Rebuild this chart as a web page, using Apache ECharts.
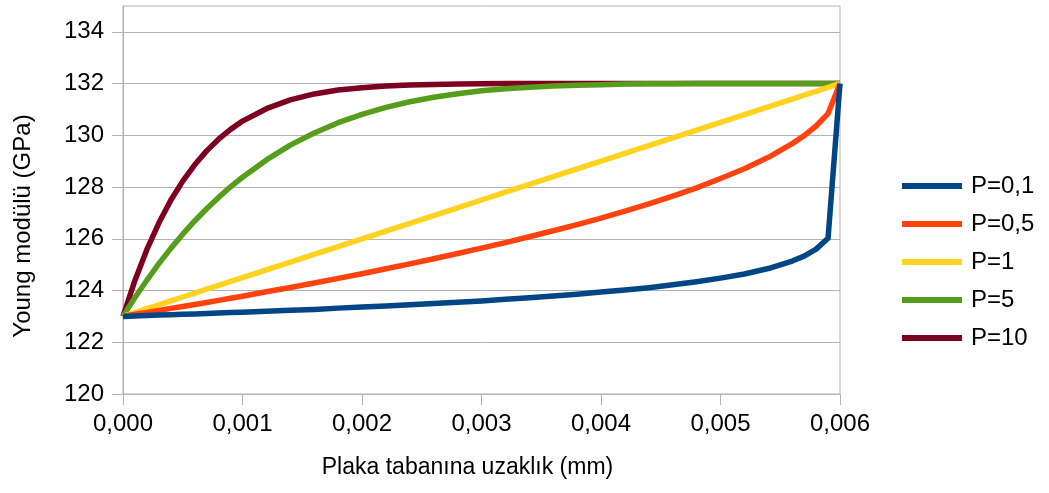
<!DOCTYPE html>
<html>
<head>
<meta charset="utf-8">
<script src="https://cdn.jsdelivr.net/npm/echarts@6/dist/echarts.min.js"></script>
<style>
html,body{margin:0;padding:0;background:#fff;}
#chart{width:1049px;height:493px;}
</style>
</head>
<body>
<div id="chart"></div>
<script>
// Distance from plate base (mm)
var distances = [0, 0.0001, 0.0002, 0.0003, 0.0004, 0.0005, 0.0006, 0.0007, 0.0008, 0.0009, 0.0010,
  0.0012, 0.0014, 0.0016, 0.0018, 0.0020, 0.0022, 0.0024, 0.0026, 0.0028, 0.0030,
  0.0032, 0.0034, 0.0036, 0.0038, 0.0040, 0.0042, 0.0044, 0.0046, 0.0048, 0.0050,
  0.0052, 0.0054, 0.0056, 0.0057, 0.0058, 0.0059, 0.0060];

var seriesNames = ['P=0,1', 'P=0,5', 'P=1', 'P=5', 'P=10'];

var p01 = [123, 123.02, 123.03, 123.05, 123.06, 123.08, 123.09, 123.11, 123.13, 123.15, 123.16,
  123.20, 123.24, 123.27, 123.32, 123.36, 123.40, 123.45, 123.50, 123.55, 123.60,
  123.66, 123.72, 123.79, 123.86, 123.94, 124.02, 124.11, 124.22, 124.34, 124.48,
  124.64, 124.85, 125.14, 125.33, 125.60, 126.02, 132];

var p05 = [123, 123.08, 123.15, 123.23, 123.31, 123.38, 123.46, 123.54, 123.62, 123.70, 123.78,
  123.95, 124.12, 124.29, 124.47, 124.65, 124.84, 125.03, 125.23, 125.43, 125.64,
  125.85, 126.08, 126.31, 126.55, 126.80, 127.07, 127.35, 127.65, 127.97, 128.33,
  128.71, 129.15, 129.68, 129.99, 130.36, 130.84, 132];

var p1 = [123, 123.15, 123.30, 123.45, 123.60, 123.75, 123.90, 124.05, 124.20, 124.35, 124.50,
  124.80, 125.10, 125.40, 125.70, 126.00, 126.30, 126.60, 126.90, 127.20, 127.50,
  127.80, 128.10, 128.40, 128.70, 129.00, 129.30, 129.60, 129.90, 130.20, 130.50,
  130.80, 131.10, 131.40, 131.55, 131.70, 131.85, 132];

var p5 = [123, 123.73, 124.40, 125.04, 125.63, 126.18, 126.69, 127.16, 127.60, 128.01, 128.38,
  129.05, 129.62, 130.09, 130.49, 130.81, 131.08, 131.30, 131.47, 131.61, 131.72,
  131.80, 131.86, 131.91, 131.94, 131.96, 131.98, 131.99, 131.99, 132, 132,
  132, 132, 132, 132, 132, 132, 132];

var p10 = [123, 124.39, 125.59, 126.61, 127.49, 128.23, 128.86, 129.40, 129.85, 130.23, 130.55,
  131.03, 131.37, 131.60, 131.75, 131.84, 131.91, 131.95, 131.97, 131.98, 131.99,
  132, 132, 132, 132, 132, 132, 132, 132, 132, 132,
  132, 132, 132, 132, 132, 132, 132];

var yTicks = [120, 122, 124, 126, 128, 130, 132, 134];
var colors = ['#004586', '#ff420e', '#ffd320', '#579d1c', '#7e0021'];

var allValues = [p01, p05, p1, p5, p10];
function pairs(vals) {
  return distances.map(function (d, i) { return [d, vals[i]]; });
}

var FONT = '"Liberation Sans", Arial, sans-serif';
var chart = echarts.init(document.getElementById('chart'), null, {renderer: 'canvas'});

var series = allValues.map(function (vals, i) {
  return {
    name: seriesNames[i],
    type: 'line',
    data: pairs(vals),
    symbol: 'none',
    showSymbol: false,
    smooth: false,
    z: 10 - i,
    lineStyle: {width: 5.5, color: colors[i], join: 'round'},
    itemStyle: {color: colors[i]},
    emphasis: {disabled: true},
    animation: false
  };
});

chart.setOption({
  animation: false,
  backgroundColor: '#ffffff',
  color: colors,
  grid: {
    left: 123, right: 209, top: 6, bottom: 99,
    containLabel: false,
    outerBoundsMode: 'none',
    show: true,
    borderColor: '#b3b3b3',
    borderWidth: 1,
    backgroundColor: 'transparent'
  },
  legend: {
    orient: 'vertical',
    left: 902,
    top: 174,
    icon: 'rect',
    itemWidth: 60,
    itemHeight: 6,
    itemGap: 14,
    padding: 0,
    data: seriesNames,
    textStyle: {fontFamily: FONT, fontSize: 24, color: '#000', padding: [0, 0, 0, 4]}
  },
  xAxis: {
    type: 'value',
    min: 0,
    max: 0.006,
    interval: 0.001,
    name: 'Plaka tabanına uzaklık (mm)',
    nameLocation: 'middle',
    nameGap: 62,
    nameTextStyle: {fontFamily: FONT, fontSize: 23, color: '#000', padding: [0, 28, 0, 0]},
    axisLine: {show: true, lineStyle: {color: '#b3b3b3', width: 1}},
    axisTick: {show: true, length: 11, lineStyle: {color: '#b3b3b3'}},
    splitLine: {show: false},
    axisLabel: {
      fontFamily: FONT, fontSize: 24, color: '#000', margin: 18,
      formatter: function (v) { return v.toFixed(3).replace('.', ','); }
    }
  },
  yAxis: {
    type: 'value',
    min: 120,
    max: 135,
    interval: 2,
    name: 'Young modülü (GPa)',
    nameLocation: 'middle',
    nameGap: 88,
    nameTextStyle: {fontFamily: FONT, fontSize: 24, color: '#000', padding: [0, 52, 0, 0]},
    axisLine: {show: true, lineStyle: {color: '#b3b3b3', width: 1}},
    axisTick: {show: true, length: 11, customValues: yTicks, lineStyle: {color: '#b3b3b3'}},
    splitLine: {show: true, lineStyle: {color: '#b3b3b3', width: 1}},
    axisLabel: {
      fontFamily: FONT, fontSize: 24, color: '#000', margin: 19,
      customValues: yTicks
    }
  },
  series: series
});
</script>
</body>
</html>
